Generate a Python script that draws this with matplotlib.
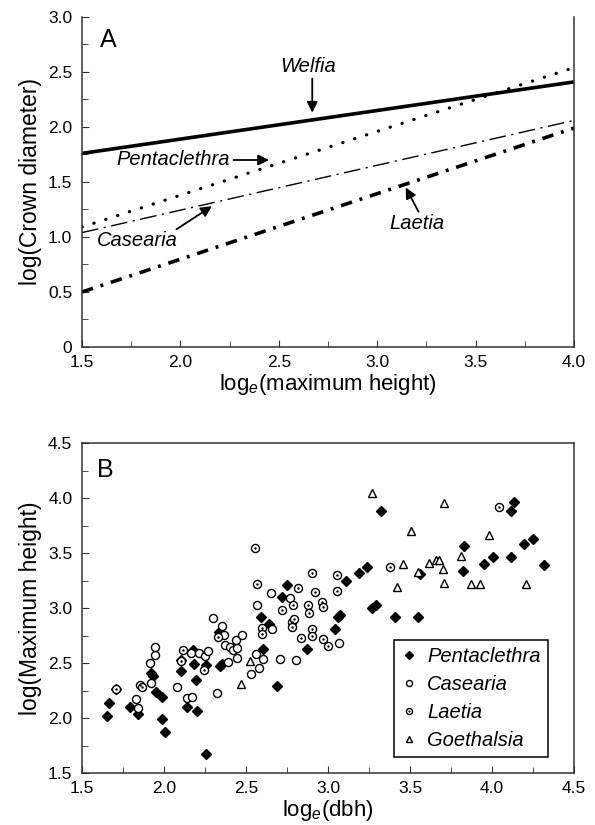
import matplotlib
matplotlib.use("Agg")
import matplotlib.pyplot as plt
from matplotlib.ticker import MultipleLocator, FuncFormatter

plt.rcParams['font.family'] = ['Liberation Sans', 'DejaVu Sans']
plt.rcParams['mathtext.fontset'] = 'custom'
plt.rcParams['mathtext.rm'] = 'Liberation Sans'
plt.rcParams['mathtext.it'] = 'Liberation Sans:italic'

# ---- panel A: fitted allometric lines (end points) ----
line_x = [1.5, 4.0]
welfia_y = [1.76, 2.41]
penta_line_y = [1.09, 2.54]
casearia_line_y = [1.04, 2.06]
laetia_line_y = [0.50, 1.99]

# ---- panel B: observed points ----
penta_x = [1.651, 1.667, 1.707, 1.793, 1.843, 1.921, 1.935, 1.949, 1.99, 1.99,
           2.004, 2.104, 2.104, 2.175, 2.185, 2.195, 2.142, 2.199, 2.256, 2.254,
           2.752, 2.718, 2.591, 2.641, 2.335, 2.602, 2.874, 2.341, 2.351, 2.687,
           3.827, 4.004, 3.951, 3.825, 3.236, 3.191, 3.11, 3.561, 3.266, 3.292,
           3.063, 3.075, 3.043, 3.408, 3.551, 3.321, 4.134, 4.114, 4.252, 4.195,
           4.317, 4.118]
penta_y = [2.018, 2.139, 2.261, 2.097, 2.036, 2.406, 2.382, 2.239, 2.188, 1.988,
           1.876, 2.43, 2.527, 2.618, 2.488, 2.345, 2.103, 2.066, 2.48, 1.67,
           3.209, 3.097, 2.915, 2.851, 2.779, 2.627, 2.624, 2.473, 2.491, 2.294,
           3.562, 3.461, 3.4, 3.336, 3.376, 3.321, 3.248, 3.309, 3.003, 3.027,
           2.915, 2.94, 2.81, 2.915, 2.915, 3.882, 3.966, 3.885, 3.627, 3.582,
           3.391, 3.466]

casearia_x = [1.827, 1.843, 1.921, 1.914, 1.947, 1.947, 2.079, 2.138, 2.169, 2.165,
              2.215, 2.25, 2.27, 2.65, 2.77, 2.565, 2.30, 2.353, 2.366, 2.372,
              2.402, 2.423, 2.439, 2.474, 2.443, 2.443, 2.392, 2.656, 2.561, 2.606,
              2.707, 2.805, 2.53, 2.58, 2.321, 3.07]
casearia_y = [2.17, 2.088, 2.315, 2.497, 2.573, 2.643, 2.279, 2.179, 2.188, 2.588,
              2.594, 2.564, 2.61, 3.139, 3.088, 3.027, 2.906, 2.836, 2.754, 2.664,
              2.648, 2.618, 2.709, 2.754, 2.633, 2.543, 2.512, 2.806, 2.582, 2.536,
              2.536, 2.527, 2.40, 2.458, 2.224, 2.683]

laetia_x = [1.707, 1.854, 1.868, 2.104, 2.118, 2.244, 2.555, 2.90, 2.565, 2.815,
            2.789, 2.919, 2.88, 2.962, 2.968, 2.886, 2.718, 2.332, 2.596, 2.596,
            2.778, 2.792, 2.783, 2.905, 2.903, 2.833, 2.967, 3.0, 3.378, 3.053,
            3.057, 4.043]
laetia_y = [2.263, 2.30, 2.28, 2.515, 2.618, 2.436, 3.543, 3.315, 3.218, 3.179,
            3.027, 3.148, 3.027, 3.057, 3.012, 2.952, 2.982, 2.739, 2.815, 2.76,
            2.876, 2.897, 2.83, 2.806, 2.745, 2.73, 2.721, 2.651, 3.37, 3.3,
            3.157, 3.921]

goeth_x = [2.525, 2.47, 3.459, 3.547, 3.618, 3.659, 3.679, 3.703, 3.81, 3.42,
           3.707, 3.872, 3.927, 3.266, 3.707, 3.506, 3.984, 4.205]
goeth_y = [2.521, 2.309, 3.4, 3.324, 3.409, 3.439, 3.439, 3.352, 3.473, 3.188,
           3.23, 3.215, 3.215, 4.043, 3.952, 3.7, 3.664, 3.218]

fig = plt.figure(figsize=(5.95, 8.25), dpi=100)
ax1 = fig.add_axes([0.1378, 0.5794, 0.8269, 0.4])
ax2 = fig.add_axes([0.1378, 0.0630, 0.8269, 0.4])


def fmt0(v, pos):
    return "0" if abs(v) < 1e-9 else "%.1f" % v


for ax in (ax1, ax2):
    ax.tick_params(which='both', direction='in', labelsize=12.5, color='#333333')
    ax.tick_params(which='major', length=5)
    ax.tick_params(which='minor', length=4)
    ax.tick_params(axis='x', pad=6)
    ax.tick_params(axis='y', pad=7)
    ax.xaxis.set_major_locator(MultipleLocator(0.5))
    ax.xaxis.set_minor_locator(MultipleLocator(0.25))
    ax.yaxis.set_major_locator(MultipleLocator(0.5))
    ax.yaxis.set_minor_locator(MultipleLocator(0.25))
    ax.xaxis.set_major_formatter(FuncFormatter(fmt0))
    ax.yaxis.set_major_formatter(FuncFormatter(fmt0))
    for s in ax.spines.values():
        s.set_color('#333333')
        s.set_linewidth(1.1)

# panel A
ax1.plot(line_x, welfia_y, color='k', lw=2.6, solid_capstyle='butt')
ax1.plot(line_x, penta_line_y, color='k', lw=2.3, linestyle=(0, (0.1, 3.8)),
         dash_capstyle='round')
ax1.plot(line_x, casearia_line_y, color='k', lw=1.0, linestyle=(0, (12, 4, 1.5, 4)))
ax1.plot(line_x, laetia_line_y, color='k', lw=2.6, linestyle=(0, (3.2, 2.2, 0.8, 2.2)))
ax1.set_xlim(1.5, 4.0)
ax1.set_ylim(0, 3.0)
ax1.spines['top'].set_visible(False)
ax1.set_xlabel(r'log$_e$(maximum height)', fontsize=16, labelpad=1)
ax1.set_ylabel('log(Crown diameter)', fontsize=16.5, labelpad=4)
ax1.text(0.037, 0.967, 'A', transform=ax1.transAxes, fontsize=18, ha='left', va='top')

arrow = dict(arrowstyle='-|>', color='k', lw=1.3, mutation_scale=16, shrinkA=0, shrinkB=0)
ital = dict(fontsize=14.5, style='italic', ha='center', va='center')
ax1.text(2.65, 2.55, 'Welfia', **ital)
ax1.annotate('', xy=(2.67, 2.13), xytext=(2.67, 2.44), arrowprops=arrow)
ax1.text(1.963, 1.70, 'Pentaclethra', **ital)
ax1.annotate('', xy=(2.45, 1.70), xytext=(2.27, 1.70), arrowprops=arrow)
ax1.text(1.78, 0.97, 'Casearia', **ital)
ax1.annotate('', xy=(2.16, 1.28), xytext=(1.98, 1.07), arrowprops=arrow)
ax1.text(3.2, 1.12, 'Laetia', **ital)
ax1.annotate('', xy=(3.145, 1.45), xytext=(3.21, 1.23), arrowprops=arrow)

# panel B
h_p, = ax2.plot(penta_x, penta_y, 'D', color='k', ms=5, ls='none')
h_c, = ax2.plot(casearia_x, casearia_y, 'o', mfc='white', mec='k', mew=1.0, ms=5.8, ls='none')
h_l, = ax2.plot(laetia_x, laetia_y, 'o', mfc='white', mec='k', mew=1.0, ms=5.8, ls='none')
h_ld, = ax2.plot(laetia_x, laetia_y, '.', color='k', ms=1.5, ls='none')
h_g, = ax2.plot(goeth_x, goeth_y, '^', mfc='white', mec='k', mew=1.0, ms=6, ls='none')
ax2.set_xlim(1.5, 4.5)
ax2.set_ylim(1.5, 4.5)
ax2.set_xlabel(r'log$_e$(dbh)', fontsize=16, labelpad=1)
ax2.set_ylabel('log(Maximum height)', fontsize=16.5, labelpad=4)
ax2.text(0.03, 0.955, 'B', transform=ax2.transAxes, fontsize=18, ha='left', va='top')

leg = ax2.legend([h_p, h_c, (h_l, h_ld), h_g],
                 ['Pentaclethra', 'Casearia', 'Laetia', 'Goethalsia'],
                 loc='lower right', bbox_to_anchor=(0.947, 0.048), borderaxespad=0,
                 prop={'style': 'italic', 'size': 14.5}, fancybox=False,
                 edgecolor='k', framealpha=1, handlelength=0.8, handletextpad=0.5,
                 markerscale=0.75, labelspacing=0.45, borderpad=0.35)
leg.get_frame().set_linewidth(1.1)

fig.savefig('out.png', dpi=100)
